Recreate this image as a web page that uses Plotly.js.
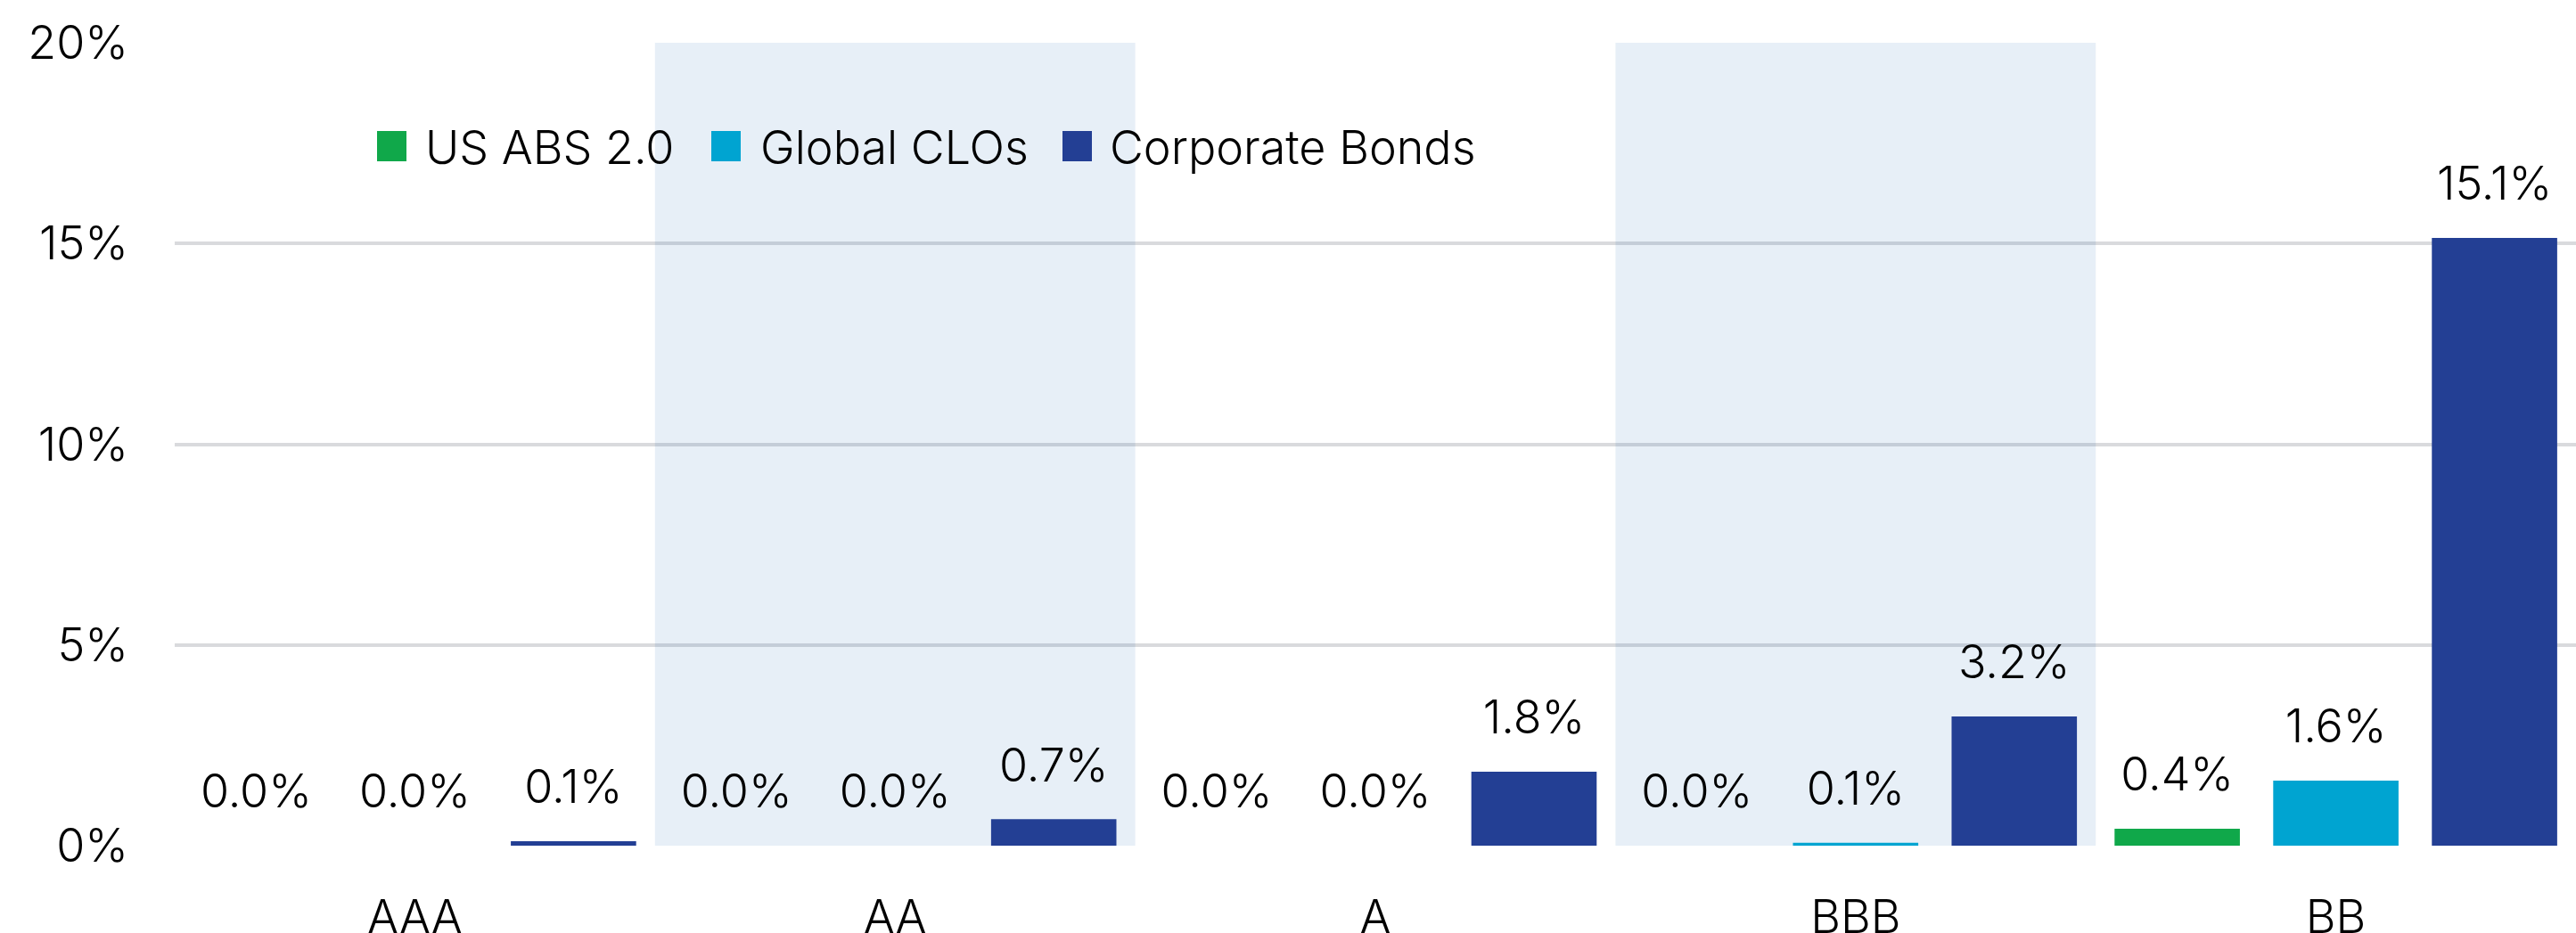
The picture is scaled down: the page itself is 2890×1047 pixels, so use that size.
<!DOCTYPE html>
<html>
<head>
<meta charset="utf-8">
<script src="https://cdn.plot.ly/plotly-3.0.1.min.js"></script>
<style>
  html, body { margin: 0; padding: 0; background: #fff; }
  #chart { width: 2890px; height: 1047px; }
</style>
</head>
<body>
<div id="chart"></div>
<script>
// ratings buckets and default rates (%) per sector
const categories = ['AAA', 'AA', 'A', 'BBB', 'BB'];
const seriesNames = ['US ABS 2.0', 'Global CLOs', 'Corporate Bonds'];
const usAbs = [0, 0, 0, 0, 0.42];
const globalClos = [0, 0, 0, 0.07, 1.62];
const corporateBonds = [0.11, 0.66, 1.84, 3.22, 15.14];
const yTicks = [0, 5, 10, 15, 20];
const shadedCategories = ['AA', 'BBB'];

const colors = ['#10a84a', '#00a4d1', '#233f94'];
const values = [usAbs, globalClos, corporateBonds];

const W = 2890, H = 1047;
const M = {l: 196, r: 0, t: 48, b: 98};
const plotW = W - M.l - M.r, plotH = H - M.t - M.b;
const px2x = px => (px - M.l) / plotW;
const px2y = py => 1 - (py - M.t) / plotH;

const font = {family: 'Inter, Roboto, sans-serif', size: 52, color: '#000', weight: 300};

let traces = [];
values.forEach((v, i) => {
    traces.push({
        type: 'bar',
        x: categories,
        y: v,
        name: seriesNames[i],
        marker: {color: colors[i]},
        offsetgroup: 'g' + i,
        alignmentgroup: 'a',
        hoverinfo: 'skip'
    });
});
// value labels, lifted above the bars with an invisible marker
values.forEach((v, i) => {
    traces.push({
        type: 'scatter',
        mode: 'markers+text',
        x: categories,
        y: v,
        offsetgroup: 'g' + i,
        alignmentgroup: 'a',
        marker: {size: 46, opacity: 0},
        texttemplate: '%{y:.1f}%',
        textposition: 'top center',
        textfont: font,
        cliponaxis: false,
        showlegend: false,
        hoverinfo: 'skip'
    });
});

let shapes = shadedCategories.map(c => {
    let idx = categories.indexOf(c);
    return {
        type: 'rect', xref: 'x', yref: 'y',
        x0: idx - 0.5, x1: idx + 0.5, y0: 0, y1: 20,
        fillcolor: 'rgba(15,95,175,0.1)', line: {width: 0},
        layer: 'between'
    };
});

// legend drawn by hand so the swatches can be big
const legendSwatchX = [423, 798, 1192];
const legendTextX = [476, 852, 1244];
let annotations = [];
seriesNames.forEach((n, i) => {
    shapes.push({
        type: 'rect', xref: 'paper', yref: 'paper',
        x0: px2x(legendSwatchX[i]), x1: px2x(legendSwatchX[i] + 33),
        y0: px2y(181), y1: px2y(147),
        fillcolor: colors[i], line: {width: 0}, layer: 'above'
    });
    annotations.push({
        xref: 'paper', yref: 'paper',
        x: px2x(legendTextX[i]), y: px2y(166),
        xanchor: 'left', yanchor: 'middle',
        text: n, showarrow: false, font: font, borderpad: 0
    });
});

const layout = {
    width: W, height: H,
    margin: M,
    paper_bgcolor: '#fff',
    plot_bgcolor: '#fff',
    font: font,
    showlegend: false,
    barmode: 'group',
    bargap: 0.009,
    bargroupgap: 0.21,
    scattermode: 'group',
    scattergap: 0.009,
    xaxis: {
        type: 'category',
        range: [-0.5, 4.5],
        showgrid: false, zeroline: false, showline: false, ticks: '',
        tickfont: font,
        ticklabelstandoff: 45
    },
    yaxis: {
        range: [0, 20],
        tickvals: yTicks,
        ticktext: yTicks.map(t => t + '%'),
        showgrid: true, gridcolor: '#d9dadd', gridwidth: 4,
        zeroline: false, showline: false, ticks: '',
        tickfont: font,
        ticklabelstandoff: 51
    },
    shapes: shapes,
    annotations: annotations
};

Plotly.newPlot('chart', traces, layout, {staticPlot: true});
</script>
</body>
</html>
